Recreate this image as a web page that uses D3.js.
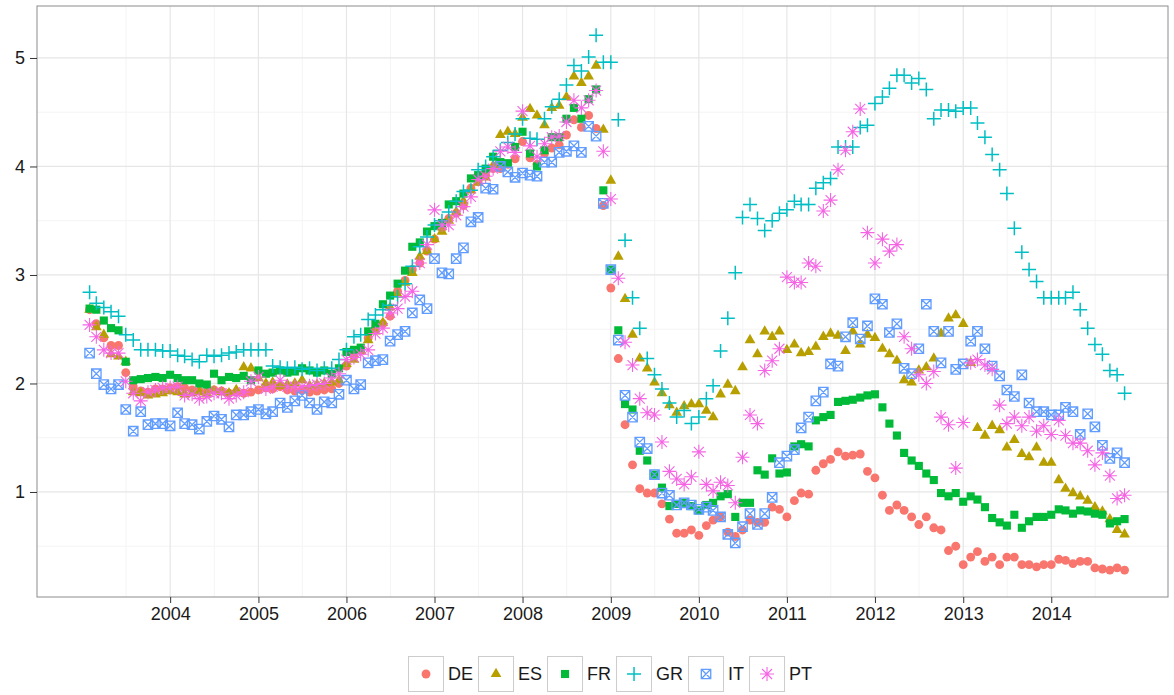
<!DOCTYPE html>
<html>
<head>
<meta charset="utf-8">
<script src="https://cdn.jsdelivr.net/npm/d3@7"></script>
<style>
  body { margin: 0; background: #fff; }
  text { font-family: "Liberation Sans", Arial, sans-serif; }
</style>
</head>
<body>
<svg width="1174" height="695"></svg>
<script>
// countries, in legend order
const countries = ["DE", "ES", "FR", "GR", "IT", "PT"];
const palette = ["#F8766D", "#B79F00", "#00BA38", "#00BFC4", "#619CFF", "#F564E3"];
const yTicks = [1, 2, 3, 4, 5];
const yearTicks = [2004, 2005, 2006, 2007, 2008, 2009, 2010, 2011, 2012, 2013, 2014];

// monthly values, Jan 2003 .. Oct 2014
const DE = [
  2.68, 2.55, 2.42, 2.35, 2.35, 2.10, 1.97, 1.93, 1.92, 1.95, 1.95, 1.96,
  1.97, 1.96, 1.94, 1.93, 1.92, 1.94, 1.93, 1.91, 1.92, 1.91, 1.92, 1.94,
  1.96, 1.95, 1.97, 1.94, 1.93, 1.94, 1.92, 1.93, 1.94, 1.95, 2.00, 2.16,
  2.25, 2.32, 2.42, 2.50, 2.55, 2.62, 2.85, 2.95, 3.05, 3.11, 3.22, 3.33,
  3.43, 3.52, 3.57, 3.64, 3.80, 3.86, 3.92, 3.98, 3.98, 4.02, 4.07, 4.23,
  4.08, 4.02, 4.12, 4.17, 4.20, 4.29, 4.43, 4.36, 4.47, 4.35, 3.64, 2.88,
  2.23, 1.62, 1.25, 1.03, 0.99, 0.99, 0.89, 0.75, 0.62, 0.62, 0.65, 0.60,
  0.69, 0.74, 0.77, 0.63, 0.59, 0.65, 0.74, 0.72, 0.72, 0.86, 0.84, 0.77,
  0.92, 0.99, 0.98, 1.20, 1.26, 1.30, 1.37, 1.33, 1.34, 1.35, 1.19, 1.13,
  0.97, 0.83, 0.88, 0.83, 0.77, 0.70, 0.77, 0.67, 0.65, 0.46, 0.50, 0.33,
  0.40, 0.45, 0.36, 0.40, 0.33, 0.40, 0.40, 0.33, 0.33, 0.31, 0.33, 0.33,
  0.38, 0.37, 0.34, 0.36, 0.36, 0.30, 0.29, 0.28, 0.30, 0.28
];
const ES = [
  2.68, 2.52, 2.45, 2.27, 2.25, 2.20, 1.92, 1.91, 1.89, 1.90, 1.91, 1.93,
  1.92, 1.90, 1.91, 1.92, 1.90, 1.93, 1.92, 1.91, 1.94, 2.15, 2.14, 2.05,
  2.00, 2.01, 1.98, 1.99, 2.00, 2.03, 1.98, 1.99, 2.00, 2.01, 2.03, 2.18,
  2.22, 2.30, 2.40, 2.48, 2.56, 2.70, 2.82, 2.93, 3.02, 3.17, 3.22, 3.33,
  3.40, 3.50, 3.58, 3.68, 3.78, 3.85, 3.90, 4.01, 4.29, 4.32, 4.30, 4.45,
  4.53, 4.47, 4.38, 4.54, 4.56, 4.64, 4.83, 4.77, 4.83, 4.93, 4.34, 3.87,
  3.17, 2.78, 2.45, 2.23, 2.14, 2.01, 1.91, 1.80, 1.73, 1.79, 1.81, 1.81,
  1.75, 1.69, 1.90, 1.99, 1.93, 2.15, 2.40, 2.27, 2.48, 2.43, 2.48, 2.31,
  2.36, 2.28, 2.29, 2.34, 2.43, 2.46, 2.44, 2.30, 2.48, 2.36, 2.45, 2.42,
  2.32, 2.27, 2.21, 2.03, 2.01, 2.12, 2.15, 2.23, 2.46, 2.60, 2.63, 2.55,
  2.19, 1.59, 1.52, 1.61, 1.57, 1.41, 1.48, 1.35, 1.32, 1.41, 1.27, 1.27,
  1.11, 1.03, 0.99, 0.96, 0.92, 0.86, 0.82, 0.75, 0.65, 0.61
];
const FR = [
  2.69, 2.68, 2.58, 2.51, 2.49, 2.20, 2.03, 2.04, 2.05, 2.06, 2.05, 2.08,
  2.05, 2.03, 2.03, 2.00, 1.99, 2.09, 2.03, 2.06, 2.05, 2.07, 2.03, 2.12,
  2.09, 2.10, 2.12, 2.10, 2.11, 2.14, 2.12, 2.10, 2.12, 2.09, 2.14, 2.29,
  2.31, 2.33, 2.48, 2.55, 2.73, 2.81, 2.92, 3.04, 3.26, 3.30, 3.40, 3.45,
  3.48, 3.65, 3.68, 3.75, 3.89, 3.92, 3.98, 4.09, 4.04, 4.03, 4.18, 4.32,
  4.12, 4.00, 4.15, 4.27, 4.27, 4.44, 4.54, 4.44, 4.62, 4.71, 3.78, 3.05,
  2.49, 1.81, 1.76, 1.38, 1.29, 1.16, 1.04, 0.87, 0.89, 0.90, 0.87, 0.83,
  0.88, 0.90, 0.96, 0.98, 0.77, 0.90, 0.90, 1.20, 1.16, 1.31, 1.17, 1.18,
  1.42, 1.44, 1.42, 1.66, 1.69, 1.71, 1.83, 1.84, 1.85, 1.87, 1.89, 1.90,
  1.78, 1.63, 1.52, 1.36, 1.29, 1.24, 1.17, 1.11, 0.99, 0.96, 0.99, 0.91,
  0.96, 0.93, 0.86, 0.76, 0.72, 0.69, 0.79, 0.67, 0.73, 0.77, 0.77, 0.79,
  0.84, 0.83, 0.80, 0.83, 0.82, 0.80, 0.79, 0.71, 0.73, 0.75
];
const GR = [
  2.84, 2.74, 2.70, 2.66, 2.62, 2.45, 2.40, 2.31, 2.31, 2.31, 2.30, 2.30,
  2.26, 2.25, 2.22, 2.20, 2.26, 2.25, 2.26, 2.28, 2.29, 2.31, 2.31, 2.31,
  2.31, 2.16, 2.15, 2.14, 2.15, 2.13, 2.14, 2.12, 2.14, 2.14, 2.22, 2.31,
  2.43, 2.45, 2.59, 2.63, 2.68, 2.72, 2.80, 2.92, 3.08, 3.26, 3.35, 3.46,
  3.50, 3.58, 3.68, 3.77, 3.78, 3.97, 4.00, 4.09, 4.15, 4.22, 4.30, 4.44,
  4.26, 4.25, 4.44, 4.55, 4.62, 4.75, 4.93, 4.88, 5.01, 5.21, 4.96, 4.96,
  4.43, 3.32, 2.79, 2.51, 2.23, 2.08, 1.95, 1.82, 1.69, 1.75, 1.63, 1.69,
  1.86, 1.98, 2.30, 2.60, 3.02, 3.53, 3.65, 3.52, 3.41, 3.50, 3.57, 3.60,
  3.68, 3.65, 3.65, 3.80, 3.85, 3.89, 4.18, 4.18, 4.18, 4.36, 4.38, 4.58,
  4.64, 4.72, 4.84, 4.84, 4.77, 4.81, 4.71, 4.44, 4.52, 4.52, 4.51, 4.54,
  4.54, 4.40, 4.27, 4.11, 3.97, 3.75, 3.43, 3.21, 3.05, 2.94, 2.79, 2.79,
  2.79, 2.79, 2.84, 2.68, 2.51, 2.36, 2.27, 2.12, 2.08, 1.91
];
const IT = [
  2.28, 2.09, 1.99, 1.95, 1.99, 1.76, 1.56, 1.74, 1.62, 1.63, 1.63, 1.61,
  1.73, 1.63, 1.62, 1.58, 1.65, 1.70, 1.67, 1.60, 1.71, 1.71, 1.74, 1.76,
  1.72, 1.74, 1.82, 1.78, 1.84, 1.89, 1.82, 1.76, 1.83, 1.82, 1.90, 2.03,
  1.95, 1.99, 2.19, 2.21, 2.22, 2.39, 2.45, 2.48, 2.65, 2.77, 2.69, 3.15,
  3.02, 3.01, 3.15, 3.25, 3.49, 3.53, 3.80, 3.79, 4.00, 3.95, 3.90, 3.94,
  3.92, 3.91, 4.04, 4.04, 4.13, 4.14, 4.19, 4.13, 4.37, 4.28, 3.66, 3.05,
  2.40, 1.89, 1.69, 1.46, 1.40, 1.16, 0.99, 0.97, 0.88, 0.90, 0.88, 0.84,
  0.86, 0.83, 0.77, 0.61, 0.53, 0.68, 0.80, 0.70, 0.80, 0.95, 1.27, 1.33,
  1.39, 1.59, 1.69, 1.84, 1.92, 2.18, 2.16, 2.43, 2.56, 2.41, 2.53, 2.78,
  2.73, 2.47, 2.55, 2.14, 2.09, 2.32, 2.73, 2.48, 2.19, 2.48, 2.13, 2.18,
  2.39, 2.48, 2.32, 2.16, 2.07, 1.94, 1.88, 2.08, 1.82, 1.74, 1.74, 1.71,
  1.71, 1.78, 1.74, 1.53, 1.72, 1.60, 1.43, 1.31, 1.36, 1.27
];
const PT = [
  2.54, 2.43, 2.31, 2.28, 2.28, 2.02, 1.91, 1.84, 1.92, 1.94, 1.96, 1.96,
  1.97, 1.89, 1.90, 1.86, 1.88, 1.91, 1.91, 1.86, 1.89, 1.92, 2.02, 2.06,
  1.95, 1.97, 2.03, 1.97, 1.97, 1.97, 1.98, 1.99, 2.00, 2.05, 2.09, 2.22,
  2.24, 2.27, 2.31, 2.46, 2.51, 2.65, 2.69, 2.80, 2.85, 3.11, 3.28, 3.60,
  3.46, 3.46, 3.55, 3.63, 3.72, 3.88, 3.91, 3.98, 4.14, 4.18, 4.13, 4.51,
  4.19, 4.09, 4.21, 4.27, 4.28, 4.41, 4.61, 4.54, 4.61, 4.70, 4.14, 3.70,
  2.97, 2.38, 2.17, 1.86, 1.73, 1.71, 1.46, 1.19, 1.12, 1.07, 1.14, 1.37,
  1.07, 1.01, 1.09, 1.06, 0.90, 1.32, 1.71, 1.63, 2.12, 2.21, 2.32, 2.98,
  2.93, 2.93, 3.11, 3.08, 3.59, 3.69, 3.97, 4.15, 4.32, 4.53, 3.39, 3.11,
  3.33, 3.22, 3.28, 2.43, 2.32, 2.08, 2.00, 2.11, 1.69, 1.62, 1.22, 1.64,
  2.19, 2.22, 2.17, 2.13, 1.80, 1.63, 1.69, 1.61, 1.69, 1.56, 1.61, 1.53,
  1.66, 1.52, 1.45, 1.45, 1.38, 1.25, 1.36, 1.15, 0.94, 0.97
];
const seriesValues = [DE, ES, FR, GR, IT, PT];

// each value is stamped at the end of its month
const months = d3.timeMonth.range(new Date(2003, 1, 1), new Date(2014, 10, 2));

const svg = d3.select("svg");
const panel = { left: 37, right: 1168, top: 6, bottom: 597 };

const x = d3.scaleTime()
  .domain([new Date(2002, 5, 28), new Date(2015, 3, 30)])
  .range([panel.left, panel.right]);
const y = d3.scaleLinear()
  .domain([0.032, 5.479])
  .range([panel.bottom, panel.top]);

// shape paths, ggplot style (16, 17, 15, 3, 7, 8)
const shapes = {
  DE: () => d3.symbol(d3.symbolCircle, 62)(),
  ES: () => d3.symbol(d3.symbolTriangle, 50)(),
  FR: () => d3.symbol(d3.symbolSquare, 66)(),
  GR: () => "M-7,0H7M0,-7V7",
  IT: () => "M-4.7,-4.7H4.7V4.7H-4.7Z M-4.7,-4.7L4.7,4.7M4.7,-4.7L-4.7,4.7",
  PT: () => "M-7,0H7M0,-7V7M-5,-5L5,5M5,-5L-5,5"
};
function styleMark(sel, k) {
  const c = palette[k];
  const name = countries[k];
  if (name === "DE" || name === "ES" || name === "FR") {
    sel.attr("fill", c).attr("stroke", "none");
  } else if (name === "IT") {
    sel.attr("fill", "none").attr("stroke", c).attr("stroke-width", 1.3);
  } else {
    sel.attr("fill", "none").attr("stroke", c).attr("stroke-width", name === "GR" ? 1.5 : 1.1);
  }
}

// panel
svg.append("rect")
  .attr("x", panel.left).attr("y", panel.top)
  .attr("width", panel.right - panel.left).attr("height", panel.bottom - panel.top)
  .attr("fill", "#fff");

const minorY = [0.5, 1.5, 2.5, 3.5, 4.5];
const minorX = d3.range(2003, 2015).map(yr => new Date(yr, 6, 2));

const grid = svg.append("g");
grid.selectAll(".ym").data(minorY).enter().append("line")
  .attr("x1", panel.left).attr("x2", panel.right)
  .attr("y1", d => y(d)).attr("y2", d => y(d))
  .attr("stroke", "#f4f4f4").attr("stroke-width", 1);
grid.selectAll(".xm").data(minorX).enter().append("line")
  .attr("y1", panel.top).attr("y2", panel.bottom)
  .attr("x1", d => x(d)).attr("x2", d => x(d))
  .attr("stroke", "#f4f4f4").attr("stroke-width", 1);
grid.selectAll(".yM").data(yTicks).enter().append("line")
  .attr("x1", panel.left).attr("x2", panel.right)
  .attr("y1", d => y(d)).attr("y2", d => y(d))
  .attr("stroke", "#e6e6e6").attr("stroke-width", 1.2);
grid.selectAll(".xM").data(yearTicks).enter().append("line")
  .attr("y1", panel.top).attr("y2", panel.bottom)
  .attr("x1", d => x(new Date(d, 0, 1))).attr("x2", d => x(new Date(d, 0, 1)))
  .attr("stroke", "#e6e6e6").attr("stroke-width", 1.2);

// points, one layer per country
seriesValues.forEach((vals, k) => {
  const g = svg.append("g");
  const marks = g.selectAll("path")
    .data(vals.map((v, i) => ({ date: months[i], value: v })))
    .enter().append("path")
    .attr("d", shapes[countries[k]]())
    .attr("transform", d => `translate(${x(d.date)},${y(d.value)})`);
  styleMark(marks, k);
});

// border
svg.append("rect")
  .attr("x", panel.left).attr("y", panel.top)
  .attr("width", panel.right - panel.left).attr("height", panel.bottom - panel.top)
  .attr("fill", "none").attr("stroke", "#8c8c8c").attr("stroke-width", 1);

// axes
const yAxis = svg.append("g").attr("transform", `translate(${panel.left},0)`)
  .call(d3.axisLeft(y).tickValues(yTicks).tickFormat(d3.format("d")).tickSize(7).tickPadding(5));
const xAxis = svg.append("g").attr("transform", `translate(0,${panel.bottom})`)
  .call(d3.axisBottom(x).tickValues(yearTicks.map(yr => new Date(yr, 0, 1)))
    .tickFormat(d3.timeFormat("%Y")).tickSize(6).tickPadding(4));
[yAxis, xAxis].forEach(a => {
  a.select(".domain").remove();
  a.selectAll(".tick line").attr("stroke", "#333");
  a.selectAll(".tick text").attr("fill", "#1a1a1a").style("font-size", "18px")
    .style("font-family", "'Liberation Sans', Arial, sans-serif");
});

// legend
const legend = svg.append("g");
let lx = 408;
const keySize = 36, keyTop = 656;
countries.forEach((name, k) => {
  legend.append("rect")
    .attr("x", lx + 0.5).attr("y", keyTop + 0.5)
    .attr("width", keySize - 1).attr("height", keySize - 1)
    .attr("fill", "#fff").attr("stroke", "#cccccc").attr("stroke-width", 1);
  const m = legend.append("path")
    .attr("d", shapes[name]())
    .attr("transform", `translate(${lx + keySize / 2},${keyTop + keySize / 2})`);
  styleMark(m, k);
  const t = legend.append("text")
    .attr("x", lx + keySize + 4).attr("y", keyTop + keySize / 2)
    .attr("dy", "0.35em")
    .style("font-size", "18px").attr("fill", "#1a1a1a")
    .text(name);
  lx += keySize + 4 + t.node().getComputedTextLength() + 5;
});
</script>
</body>
</html>
